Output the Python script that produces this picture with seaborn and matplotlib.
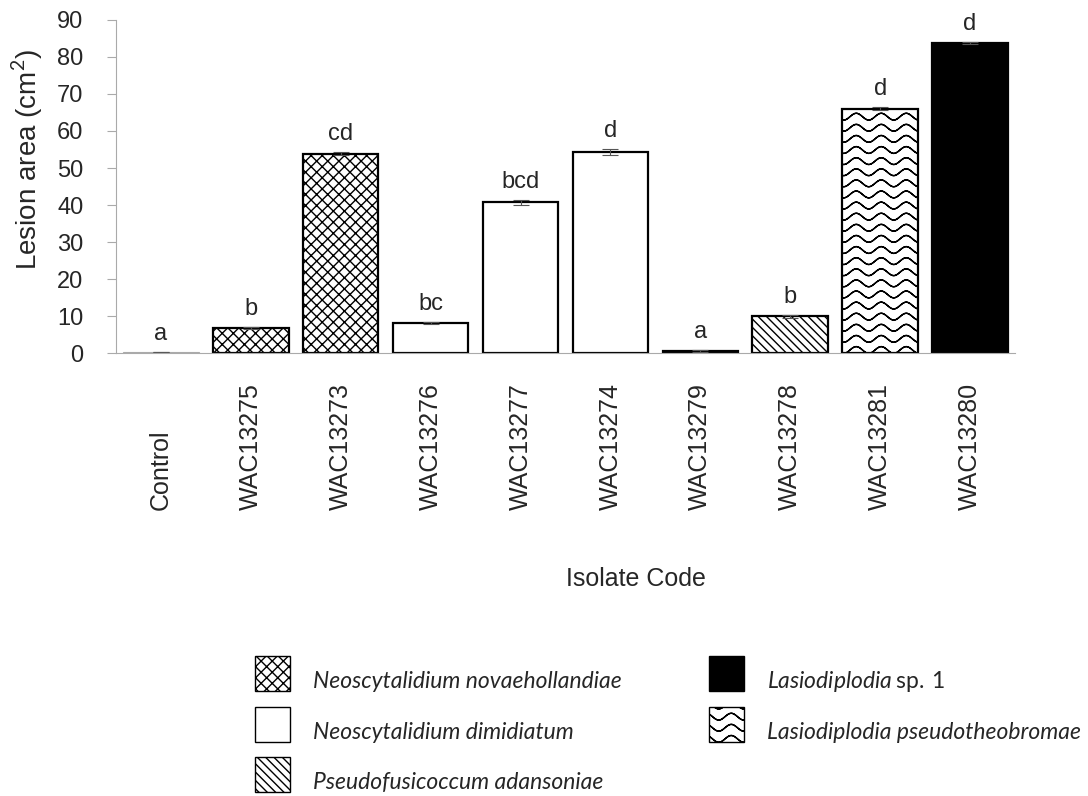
import warnings
import numpy as np
import pandas as pd
import matplotlib
matplotlib.use("Agg")
import matplotlib.pyplot as plt
import matplotlib.patches as mpatches
import matplotlib.hatch as mhatch
from matplotlib.path import Path
import seaborn as sns

warnings.filterwarnings("ignore")

isolates = ["Control", "WAC13275", "WAC13273", "WAC13276", "WAC13277",
            "WAC13274", "WAC13279", "WAC13278", "WAC13281", "WAC13280"]
lesion_area = [0.15, 6.8, 53.9, 8.1, 40.7, 54.4, 0.6, 9.9, 66.0, 83.7]
lesion_se = [0.0, 0.3, 0.5, 0.3, 0.7, 0.8, 0.2, 0.3, 0.4, 0.3]
letters = ["a", "b", "cd", "bc", "bcd", "d", "a", "b", "d", "d"]
species = ["Control",
           "Neoscytalidium novaehollandiae", "Neoscytalidium novaehollandiae",
           "Neoscytalidium dimidiatum", "Neoscytalidium dimidiatum",
           "Neoscytalidium dimidiatum", "Other",
           "Pseudofusicoccum adansoniae", "Lasiodiplodia pseudotheobromae",
           "Lasiodiplodia sp. 1"]

# fill colour and hatch per species
styles = {
    "Control": ("white", ""),
    "Neoscytalidium novaehollandiae": ("white", "xxx"),
    "Neoscytalidium dimidiatum": ("white", ""),
    "Other": ("white", ""),
    "Pseudofusicoccum adansoniae": ("white", "\\\\\\\\"),
    "Lasiodiplodia pseudotheobromae": ("white", "~"),
    "Lasiodiplodia sp. 1": ("black", ""),
}


# matplotlib has no wavy hatch, so add one.
# each wave goes out and back on itself so the Agg hatch fill has no area
class WaveHatch(mhatch.HatchPatternBase):
    def __init__(self, hatch, density):
        self.rows = hatch.count("~") * 9
        self.pts = 81
        self.num_vertices = self.rows * self.pts * 2

    def set_vertices_and_codes(self, vertices, codes):
        x = np.linspace(0, 1, self.pts)
        x = np.concatenate([x, x[::-1]])
        n = len(x)
        for i in range(self.rows):
            s = slice(i * n, (i + 1) * n)
            vertices[s, 0] = x
            vertices[s, 1] = (i + 0.5) / self.rows + 0.034 * np.sin(8 * np.pi * x)
            codes[s] = Path.LINETO
            codes[i * n] = Path.MOVETO


mhatch._hatch_types.append(WaveHatch)

sns.set_style("white")
plt.rcParams["font.family"] = ["Liberation Sans", "DejaVu Sans"]
plt.rcParams["hatch.linewidth"] = 1.0
plt.rcParams["mathtext.fontset"] = "custom"
plt.rcParams["mathtext.rm"] = "Lato"
plt.rcParams["mathtext.it"] = "Lato:italic"

df = pd.DataFrame({"isolate": isolates, "area": lesion_area})
palette = {iso: styles[sp][0] for iso, sp in zip(isolates, species)}

W, H = 1088, 796
fig = plt.figure(figsize=(W / 100, H / 100), dpi=100)
ax = fig.add_axes([0.1066, 0.5565, 0.8263, 0.4184])

sns.barplot(data=df, x="isolate", y="area", hue="isolate", palette=palette,
            saturation=1, width=0.84, edgecolor="black", linewidth=1.6,
            errorbar=None, legend=False, ax=ax)

bars = sorted(ax.patches, key=lambda p: p.get_x())
for bar, sp in zip(bars, species):
    bar.set_hatch(styles[sp][1])
    if sp == "Control":
        bar.set_edgecolor("#aaaaaa")
        bar.set_linewidth(0.8)

ax.errorbar(range(len(isolates)), lesion_area, yerr=lesion_se, fmt="none",
            ecolor="#555555", elinewidth=0.8, capsize=6, capthick=0.8)

for i, (h, e, t) in enumerate(zip(lesion_area, lesion_se, letters)):
    ax.text(i, h + e + 3.3, t, ha="center", va="baseline", fontsize=17)

ax.set_xlim(-0.5, len(isolates) - 0.5)
ax.set_ylim(0, 90)
ax.set_yticks(range(0, 91, 10))
ax.set_xticks(range(len(isolates)))
ax.set_xticklabels(isolates, rotation=90, va="bottom", ha="center", fontsize=18)
ax.set_xticks(np.arange(0.5, len(isolates), 1), minor=True)
ax.tick_params(axis="x", which="major", length=0, pad=113)
ax.tick_params(axis="x", which="minor", length=6, color="#aaaaaa", width=0.8)
ax.tick_params(axis="y", length=6.5, color="#aaaaaa", width=0.8, pad=17,
               labelsize=17, left=True)
for side in ["top", "right"]:
    ax.spines[side].set_visible(False)
for side in ["left", "bottom"]:
    ax.spines[side].set_color("#aaaaaa")
    ax.spines[side].set_linewidth(0.8)

ax.set_ylabel("Lesion area (cm$^2$)", fontsize=20, va="center")
ax.yaxis.set_label_coords(-0.098, 0.58)
ax.set_xlabel("Isolate Code", fontsize=18, va="center")
ax.xaxis.set_label_coords(0.578, -0.68)

# legend drawn by hand below the plot (pixel positions)
legend_items = [
    ("Neoscytalidium novaehollandiae", "Neoscytalidium novaehollandiae", 255, 656),
    ("Neoscytalidium dimidiatum", "Neoscytalidium dimidiatum", 255, 707),
    ("Pseudofusicoccum adansoniae", "Pseudofusicoccum adansoniae", 255, 757),
    ("Lasiodiplodia sp. 1", r"$\mathit{Lasiodiplodia}\:\mathrm{sp.}\:\mathrm{1}$", 709, 656),
    ("Lasiodiplodia pseudotheobromae", "Lasiodiplodia pseudotheobromae", 709, 707),
]
for sp, label, px, py in legend_items:
    fc, ht = styles[sp]
    fig.add_artist(mpatches.Rectangle((px / W, 1 - (py + 35) / H), 35 / W, 35 / H,
                                      transform=fig.transFigure, facecolor=fc,
                                      edgecolor="black", hatch=ht, linewidth=1))
    fig.text((px + 58) / W, 1 - (py + 32) / H, label, va="baseline", ha="left",
             family="Lato", style="italic", fontsize=16.5)

fig.savefig("out.png", dpi=100)
